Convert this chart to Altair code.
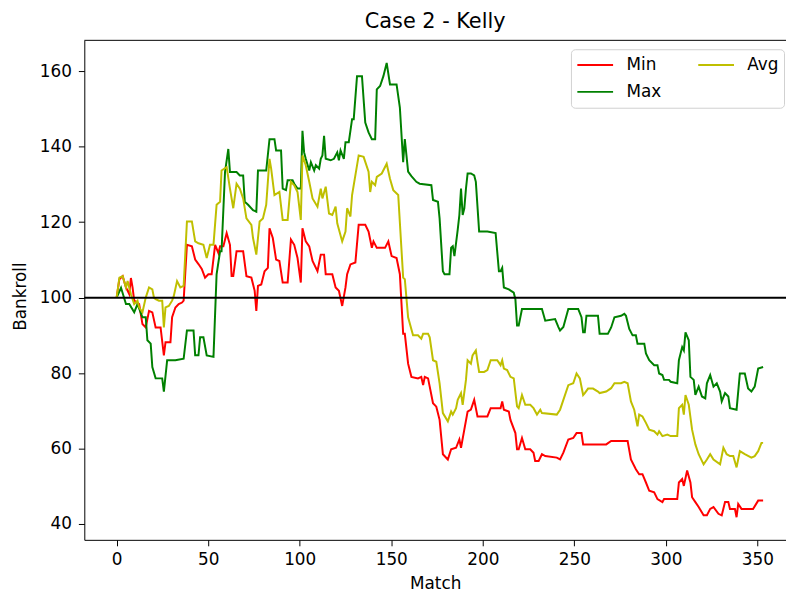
import altair as alt
import pandas as pd

TITLE = "Case 2 - Kelly"
X_TITLE = "Match"
Y_TITLE = "Bankroll"
SERIES = ["Min", "Max", "Avg"]
COLORS = ["#ff0000", "#008000", "#bfbf00"]
X_TICKS = [0, 50, 100, 150, 200, 250, 300, 350]
Y_TICKS = [40, 60, 80, 100, 120, 140, 160]
BASELINE = 100

# (match, bankroll)
MIN_PTS = [
    (0, 100), (1.5, 104.9), (3.3, 105.7), (5.1, 102.7), (6.9, 100.9), (7.8, 105.2), (8.7, 102.7),
    (9.6, 99.2), (12.3, 98.3), (14.1, 93.0), (15.9, 92.1), (17.7, 96.5), (19.5, 96.1), (21.3, 92.1),
    (24.0, 92.1), (25.8, 84.7), (26.7, 88.2), (29.4, 88.2), (30.3, 94.8), (32.1, 97.4), (33.9, 98.3),
    (35.7, 98.7), (36.6, 99.2), (38.4, 114.0), (41.1, 113.6), (42.9, 110.1), (44.7, 108.9),
    (46.5, 107.6), (48.3, 105.3), (50.1, 106.2), (51.9, 106.2), (53.8, 114.0), (55.6, 111.8),
    (56.5, 113.6), (58.3, 113.6), (60.1, 117.1), (61.9, 114.0), (62.8, 105.7), (63.7, 105.7),
    (65.5, 112.3), (69.1, 112.3), (70.9, 105.7), (73.6, 105.3), (75.4, 101.8), (76.3, 96.5),
    (77.2, 103.1), (79.0, 103.5), (80.8, 107.0), (82.6, 107.9), (83.5, 118.4), (85.3, 115.8),
    (87.1, 110.1), (88.9, 109.7), (90.7, 104.0), (93.4, 104.0), (95.2, 115.4), (97.0, 114.0),
    (98.8, 110.5), (100.6, 104.0), (101.5, 118.4), (103.3, 114.9), (105.2, 113.6), (107.0, 109.7),
    (109.7, 107.0), (111.5, 111.4), (113.3, 111.4), (114.2, 106.2), (117.8, 106.2), (119.6, 102.7),
    (121.4, 101.8), (123.2, 97.8), (125.0, 102.7), (125.9, 106.2), (127.7, 108.8), (130.4, 109.3),
    (132.2, 119.3), (135.8, 119.3), (137.6, 117.5), (139.4, 113.2), (140.3, 114.9), (142.1, 113.2),
    (146.6, 113.2), (148.4, 114.9), (150.2, 111.0), (152.9, 110.5), (154.7, 106.2), (156.5, 90.4),
    (157.4, 90.4), (159.2, 82.5), (161.0, 79.0), (164.6, 78.6), (166.4, 79.0), (167.4, 76.8),
    (168.3, 79.0), (170.1, 78.6), (171.0, 76.4), (172.8, 72.0), (174.6, 71.1), (176.4, 67.6),
    (178.2, 58.5), (180.9, 57.1), (182.7, 59.8), (185.4, 60.2), (187.2, 62.4), (188.1, 60.2),
    (189.9, 65.0), (191.7, 69.8), (193.5, 70.3), (195.3, 72.9), (197.1, 68.5), (202.5, 68.5),
    (204.3, 70.7), (209.7, 70.7), (210.6, 72.5), (211.5, 70.3), (214.2, 69.8), (215.1, 67.6),
    (217.8, 64.1), (218.7, 59.8), (219.6, 59.8), (221.4, 62.8), (223.2, 59.8), (225.9, 59.8),
    (227.7, 58.9), (228.6, 56.7), (230.5, 56.7), (232.3, 58.5), (234.1, 58.0), (240.4, 57.6),
    (242.2, 57.1), (244.0, 58.9), (246.7, 62.4), (249.4, 62.8), (251.2, 64.1), (253.9, 64.1),
    (254.8, 61.1), (267.4, 61.1), (270.1, 62.0), (279.1, 62.0), (280.9, 57.1), (283.6, 54.5),
    (285.4, 53.2), (287.2, 53.2), (289.1, 51.0), (290.9, 48.8), (293.6, 48.4), (295.4, 46.6),
    (298.1, 45.8), (299.0, 46.6), (306.2, 46.6), (307.1, 51.0), (308.9, 51.9), (309.8, 50.1),
    (311.6, 54.2), (313.4, 51.0), (314.3, 47.1), (316.1, 45.8), (317.9, 44.5), (320.6, 42.3),
    (322.4, 42.3), (324.2, 44.0), (326.0, 44.5), (328.7, 42.7), (330.5, 42.3), (332.3, 45.8),
    (334.1, 45.8), (335.0, 44.0), (337.7, 44.0), (338.6, 41.8), (339.5, 45.3), (341.3, 44.0),
    (347.6, 44.0), (350.4, 46.2), (353.1, 46.2),
]

AVG_PTS = [
    (0, 100), (1.5, 105.3), (3.3, 105.7), (5.1, 102.7), (6.0, 104.4), (7.8, 100.9), (9.6, 98.3),
    (11.4, 99.2), (12.3, 97.4), (14.1, 96.1), (15.9, 100.0), (17.7, 102.7), (19.5, 102.2),
    (20.4, 100.0), (21.3, 99.6), (23.1, 99.2), (24.9, 99.2), (25.8, 92.1), (26.7, 97.4), (28.5, 97.8),
    (30.3, 99.2), (31.2, 100.4), (33.0, 104.4), (34.8, 102.7), (36.6, 103.1), (38.4, 120.2),
    (41.1, 120.2), (42.9, 114.9), (44.7, 114.4), (47.4, 114.0), (49.2, 110.5), (51.0, 114.0),
    (52.9, 114.0), (54.6, 124.6), (56.5, 125.4), (57.3, 133.7), (60.1, 134.6), (61.9, 128.9),
    (63.7, 123.7), (65.5, 130.2), (67.3, 128.9), (69.1, 126.3), (70.9, 121.0), (73.6, 119.3),
    (74.5, 115.8), (76.3, 111.4), (78.1, 120.2), (79.9, 121.0), (81.7, 124.6), (83.5, 136.8),
    (84.4, 134.2), (86.2, 127.2), (88.9, 128.0), (90.7, 120.6), (93.4, 120.6), (95.2, 130.7),
    (97.0, 129.8), (98.8, 128.0), (100.6, 120.6), (101.5, 137.7), (103.3, 135.1), (105.2, 130.7),
    (107.0, 126.3), (109.7, 124.1), (111.5, 128.9), (112.4, 126.3), (114.2, 129.4), (116.0, 122.3),
    (117.8, 121.9), (119.6, 124.1), (120.5, 119.7), (123.2, 114.9), (125.0, 117.5), (125.9, 123.7),
    (127.7, 121.5), (128.6, 127.2), (132.2, 137.7), (134.9, 137.3), (137.6, 133.4), (138.5, 128.0),
    (139.4, 130.7), (141.2, 129.8), (142.1, 132.0), (144.8, 132.9), (147.5, 135.5), (149.3, 131.5),
    (151.1, 128.5), (153.8, 127.2), (156.5, 105.3), (157.4, 104.9), (159.2, 94.8), (161.9, 90.0),
    (164.6, 90.0), (166.4, 89.1), (167.4, 90.4), (170.1, 90.4), (171.0, 89.5), (172.8, 83.4),
    (174.6, 83.0), (176.4, 77.3), (178.2, 69.4), (180.9, 67.2), (182.7, 69.8), (183.6, 69.0),
    (185.4, 70.7), (186.3, 72.9), (188.1, 74.7), (189.0, 71.6), (190.8, 78.2), (191.7, 83.4),
    (193.5, 82.5), (194.4, 84.7), (196.2, 86.0), (197.1, 83.0), (198.0, 80.3), (200.7, 80.3),
    (202.5, 80.8), (204.3, 83.4), (207.9, 83.4), (209.7, 82.1), (210.6, 83.4), (211.5, 81.2),
    (213.3, 80.8), (215.1, 79.0), (216.9, 78.6), (218.7, 71.2), (219.6, 70.7), (221.4, 74.2),
    (223.2, 71.6), (225.9, 71.6), (227.7, 70.7), (229.6, 69.0), (231.4, 70.3), (232.3, 69.4),
    (240.4, 69.0), (242.2, 70.3), (244.0, 72.9), (246.7, 76.8), (249.4, 77.3), (251.2, 79.9),
    (253.0, 78.6), (254.8, 74.2), (255.7, 74.7), (257.5, 75.9), (260.2, 75.9), (262.9, 75.1),
    (263.8, 74.7), (267.4, 75.1), (270.1, 76.0), (271.9, 77.3), (275.5, 77.3), (277.3, 77.7),
    (279.1, 77.3), (280.9, 72.5), (282.7, 70.3), (284.5, 65.9), (285.4, 69.0), (287.2, 68.5),
    (289.1, 66.8), (290.9, 65.0), (293.6, 64.6), (295.4, 63.7), (296.3, 64.6), (298.1, 63.3),
    (300.8, 63.7), (302.6, 63.3), (306.2, 63.3), (307.1, 70.7), (308.9, 71.6), (309.8, 69.0),
    (310.7, 74.2), (312.5, 71.6), (314.3, 65.0), (316.1, 61.1), (317.9, 58.5), (320.6, 55.8),
    (322.4, 57.1), (324.2, 58.5), (326.0, 57.1), (329.6, 55.8), (331.4, 60.2), (333.2, 58.5),
    (335.0, 58.0), (336.8, 58.0), (338.6, 55.0), (340.4, 59.3), (343.1, 58.5), (346.7, 57.6),
    (348.5, 58.0), (350.4, 59.3), (352.2, 61.5), (353.1, 61.5),
]

MAX_PTS = [
    (0, 100), (2.4, 102.6), (5.1, 98.3), (6.9, 98.3), (9.6, 96.1), (11.4, 98.3), (14.1, 94.8),
    (15.9, 94.8), (16.8, 88.7), (18.6, 87.8), (19.5, 81.6), (21.3, 78.6), (24.9, 78.6), (25.8, 75.1),
    (27.6, 83.4), (32.1, 83.4), (36.6, 83.8), (38.4, 91.3), (42.0, 91.3), (42.9, 84.7), (44.7, 84.7),
    (45.6, 89.5), (47.4, 89.5), (49.2, 84.7), (52.9, 84.3), (54.6, 106.2), (56.5, 112.3),
    (57.3, 112.3), (59.2, 133.3), (61.0, 139.4), (61.9, 133.3), (65.5, 133.3), (67.3, 132.4),
    (69.1, 132.4), (70.0, 125.4), (71.8, 124.6), (74.5, 123.2), (76.3, 122.8), (77.2, 133.7),
    (81.7, 133.7), (83.5, 142.0), (86.2, 142.0), (87.1, 139.0), (89.8, 139.0), (90.7, 128.9),
    (92.5, 128.5), (93.4, 131.1), (96.1, 131.1), (97.0, 130.2), (98.8, 128.9), (100.6, 128.9),
    (101.5, 144.2), (102.4, 138.5), (103.3, 136.8), (105.2, 133.7), (106.1, 135.9), (107.9, 133.7),
    (108.8, 135.1), (110.6, 134.2), (111.5, 136.8), (112.4, 137.7), (113.3, 142.9), (114.2, 136.8),
    (116.9, 136.4), (118.7, 136.8), (120.5, 138.5), (121.4, 136.4), (122.3, 139.0), (124.1, 136.8),
    (125.0, 141.2), (126.8, 141.2), (128.6, 147.3), (129.5, 147.3), (131.3, 158.7), (134.0, 158.7),
    (135.8, 146.4), (137.6, 143.8), (139.4, 142.0), (141.2, 142.0), (142.1, 155.2), (143.9, 156.1),
    (145.7, 158.7), (147.5, 162.2), (149.3, 156.5), (152.9, 156.5), (154.7, 150.4), (156.5, 135.9),
    (157.4, 142.0), (158.3, 137.7), (159.2, 133.4), (161.0, 132.2), (163.7, 130.7), (165.5, 130.2),
    (171.9, 129.8), (172.8, 125.9), (175.5, 125.4), (176.4, 121.0), (178.2, 107.0), (179.1, 106.2),
    (181.8, 106.2), (182.7, 113.2), (183.6, 113.6), (184.5, 111.0), (186.3, 118.0), (187.2, 121.9),
    (188.1, 128.9), (189.0, 121.9), (189.9, 123.7), (190.8, 128.9), (191.7, 132.9), (193.5, 132.9),
    (195.3, 132.4), (196.2, 130.7), (198.0, 117.5), (202.5, 117.5), (207.0, 117.1), (208.8, 107.0),
    (209.7, 107.0), (210.6, 107.9), (211.5, 102.7), (214.2, 102.2), (216.9, 101.3), (217.8, 99.6),
    (218.7, 92.6), (219.6, 92.6), (221.4, 97.0), (232.3, 97.0), (234.1, 93.9), (239.5, 94.3),
    (241.3, 92.2), (242.2, 91.3), (244.0, 92.2), (246.7, 97.0), (252.1, 97.0), (253.9, 94.8),
    (254.8, 90.8), (255.7, 90.8), (256.6, 95.2), (262.9, 95.2), (263.8, 90.4), (268.3, 90.4),
    (270.1, 92.1), (271.9, 94.8), (275.5, 95.2), (277.3, 95.7), (278.2, 95.2), (280.0, 91.7),
    (281.8, 90.0), (283.6, 90.0), (284.5, 87.8), (288.2, 87.8), (289.1, 85.2), (290.9, 83.4),
    (293.6, 82.1), (295.4, 82.1), (296.3, 79.9), (298.1, 79.5), (299.0, 78.2), (301.7, 78.2),
    (302.6, 77.7), (306.2, 77.3), (307.1, 83.4), (308.9, 86.9), (309.8, 86.0), (310.7, 90.8),
    (312.5, 88.7), (313.4, 79.0), (315.2, 78.2), (316.1, 74.2), (317.9, 76.4), (319.7, 73.8),
    (321.5, 73.3), (322.4, 77.3), (324.2, 79.5), (326.0, 76.4), (327.8, 77.3), (329.6, 75.1),
    (330.5, 72.5), (332.3, 74.7), (334.1, 73.8), (335.0, 70.7), (338.6, 70.3), (340.4, 79.9),
    (343.1, 79.9), (344.9, 75.9), (346.7, 75.1), (348.5, 76.4), (350.4, 81.2), (353.1, 81.6),
]

rows = []
for name, pts in (("Min", MIN_PTS), ("Max", MAX_PTS), ("Avg", AVG_PTS)):
    for m, v in pts:
        rows.append({"match": m, "bankroll": v, "series": name})
df = pd.DataFrame(rows)

FONT = "DejaVu Sans"
x_scale = alt.Scale(domain=[-17.65, 365.6], nice=False, zero=False)
y_scale = alt.Scale(domain=[35.8, 168.2], nice=False, zero=False)

x_enc = alt.X(
    "match:Q", scale=x_scale,
    axis=alt.Axis(values=X_TICKS, title=X_TITLE, grid=False, tickSize=6, labelPadding=6,
                  titleY=44, titleBaseline="middle", labelFlush=False),
)
y_enc = alt.Y(
    "bankroll:Q", scale=y_scale,
    axis=alt.Axis(values=Y_TICKS, title=Y_TITLE, grid=False, tickSize=6, labelPadding=7,
                  titleX=-64, titleY=258, titleAngle=-90, titleBaseline="middle", titleAlign="center",
                  labelFlush=False),
)
color_enc = alt.Color(
    "series:N",
    scale=alt.Scale(domain=SERIES, range=COLORS),
    legend=alt.Legend(
        title=None, orient="none", legendX=491, legendY=9, columns=2,
        symbolType="stroke", symbolSize=1300, symbolStrokeWidth=2, clipHeight=22,
        labelFontSize=17, labelFont=FONT, labelColor="black", labelOffset=12,
        columnPadding=35, rowPadding=5, padding=5,
        strokeColor="#d0d0d0", fillColor="white", cornerRadius=4,
    ),
)

layers = []
for name in ["Min", "Max", "Avg"]:
    layers.append(
        alt.Chart(df).transform_filter(alt.datum.series == name)
        .mark_line(strokeWidth=2, clip=True)
        .encode(x=x_enc, y=y_enc, color=color_enc, order="match:Q")
    )

hline = alt.Chart(pd.DataFrame({"y": [BASELINE]})).mark_rule(color="black", strokeWidth=2).encode(
    y=alt.Y("y:Q", scale=y_scale)
)
top_spine = alt.Chart(pd.DataFrame({"y": [0]})).mark_rule(color="black", strokeWidth=1).encode(
    y=alt.value(0)
)

chart = alt.layer(*layers, hline, top_spine).properties(
    width=708, height=504,
    title=alt.TitleParams(TITLE, fontSize=21, font=FONT, fontWeight="normal", anchor="middle", offset=8, color="black"),
    autosize=alt.AutoSizeParams(type="none"),
    padding={"left": 77, "top": 30, "right": 0, "bottom": 50},
).configure_view(stroke=None).configure_axis(
    labelFont=FONT, titleFont=FONT, labelFontSize=17, titleFontSize=17, titleFontWeight="normal",
    labelColor="black", titleColor="black", domainColor="black", tickColor="black", domainWidth=1,
)

chart.save("out.html", embed_options={"renderer": "svg", "actions": False})
